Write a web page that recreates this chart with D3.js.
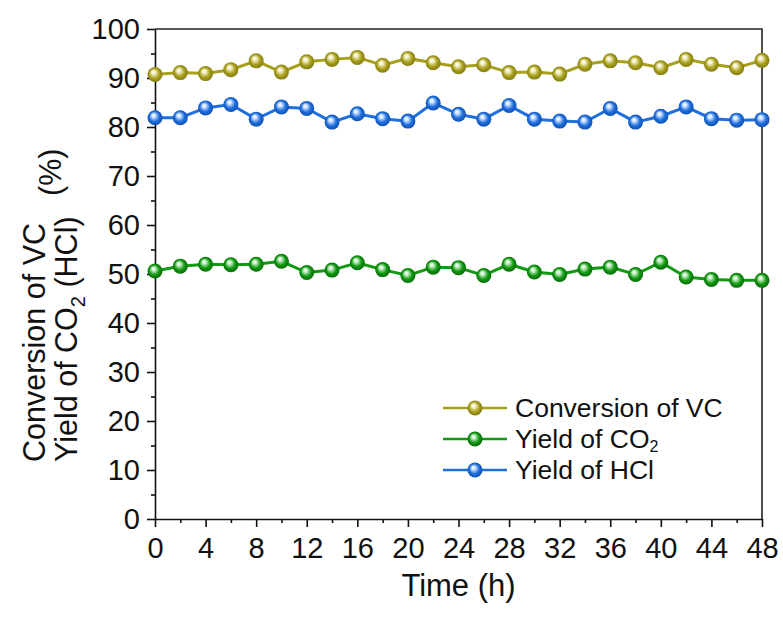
<!DOCTYPE html>
<html>
<head>
<meta charset="utf-8">
<script src="https://cdn.jsdelivr.net/npm/d3@7"></script>
<style>
  body { margin: 0; background: #fff; }
  text { font-family: "Liberation Sans", Arial, sans-serif; fill: #111; }
</style>
</head>
<body>
<svg id="chart"></svg>
<script>
// time points (h)
const hours = [0, 2, 4, 6, 8, 10, 12, 14, 16, 18, 20, 22, 24, 26, 28, 30, 32, 34, 36, 38, 40, 42, 44, 46, 48];

const conversionVC = [90.7, 91.1, 90.9, 91.7, 93.5, 91.2, 93.3, 93.8, 94.2, 92.6, 94.0, 93.1, 92.3,
  92.7, 91.1, 91.2, 90.8, 92.8, 93.5, 93.1, 92.1, 93.8, 92.8, 92.1, 93.6];
const yieldCO2 = [50.6, 51.6, 52.0, 51.9, 52.0, 52.6, 50.3, 50.8, 52.3, 50.9, 49.7, 51.4, 51.3,
  49.7, 52.0, 50.4, 49.9, 51.0, 51.4, 49.9, 52.4, 49.4, 48.9, 48.7, 48.7];
const yieldHCl = [81.9, 81.9, 83.9, 84.6, 81.6, 84.1, 83.8, 81.0, 82.7, 81.7, 81.2, 84.9, 82.6,
  81.6, 84.4, 81.6, 81.2, 81.0, 83.8, 81.0, 82.2, 84.1, 81.7, 81.4, 81.5];

const xTicks = d3.range(0, 49, 4);
const yTicks = d3.range(0, 101, 10);

const series = [
  { key: 'vc', name: 'Conversion of VC', values: conversionVC, color: '#a8a01c', light: '#f4f0c8', dark: '#7c7510' },
  { key: 'co2', name: 'Yield of CO', sub: '2', values: yieldCO2, color: '#119a11', light: '#c8f0c8', dark: '#066006' },
  { key: 'hcl', name: 'Yield of HCl', values: yieldHCl, color: '#1f6fdf', light: '#d0e4ff', dark: '#0c4aa8' },
];

const W = 783;
const H = 619;
const margin = { top: 29, right: 21, bottom: 100, left: 155 };
const width = W - margin.left - margin.right;
const height = H - margin.top - margin.bottom;
const FONT = '"Liberation Sans", Arial, sans-serif';

const svg = d3.select('#chart').attr('width', W).attr('height', H);

// ball gradients
const defs = svg.append('defs');
series.forEach((s) => {
  const g = defs.append('radialGradient')
    .attr('id', `ball-${s.key}`)
    .attr('cx', '50%').attr('cy', '50%').attr('r', '55%')
    .attr('fx', '38%').attr('fy', '32%');
  g.append('stop').attr('offset', '0%').attr('stop-color', '#ffffff');
  g.append('stop').attr('offset', '22%').attr('stop-color', s.light);
  g.append('stop').attr('offset', '60%').attr('stop-color', s.color);
  g.append('stop').attr('offset', '100%').attr('stop-color', s.dark);
});

const chart = svg.append('g').attr('transform', `translate(${margin.left},${margin.top})`);

const x = d3.scaleLinear().domain([0, 48]).range([0, width]);
const y = d3.scaleLinear().domain([0, 100]).range([height, 0]);

// minor ticks
const xMinor = d3.axisBottom(x).tickValues(d3.range(2, 48, 4)).tickSize(4).tickFormat('');
const yMinor = d3.axisLeft(y).tickValues(d3.range(5, 100, 10)).tickSize(4).tickFormat('');

chart.append('g').attr('transform', `translate(0,${height})`).call(xMinor)
  .call((g) => g.select('.domain').remove())
  .call((g) => g.selectAll('line').attr('stroke', '#111').attr('stroke-width', 1.6));
chart.append('g').call(yMinor)
  .call((g) => g.select('.domain').remove())
  .call((g) => g.selectAll('line').attr('stroke', '#111').attr('stroke-width', 1.6));

const xAxis = d3.axisBottom(x).tickValues(xTicks).tickSize(8).tickSizeOuter(0).tickPadding(10);
const yAxis = d3.axisLeft(y).tickValues(yTicks).tickSize(8).tickSizeOuter(0).tickPadding(7);

chart.append('g').attr('transform', `translate(0,${height})`).call(xAxis)
  .call((g) => g.selectAll('line, path').attr('stroke', '#111').attr('stroke-width', 1.6))
  .call((g) => g.selectAll('text').attr('font-size', 29).attr('fill', '#111').attr('font-family', FONT));
chart.append('g').call(yAxis)
  .call((g) => g.selectAll('line, path').attr('stroke', '#111').attr('stroke-width', 1.6))
  .call((g) => g.selectAll('text').attr('font-size', 29).attr('fill', '#111').attr('font-family', FONT));

// top and right frame
chart.append('path')
  .attr('d', `M0,0H${width}V${height}`)
  .attr('fill', 'none')
  .attr('stroke', '#222')
  .attr('stroke-width', 1.6);

// lines and balls
const line = d3.line().x((d, i) => x(hours[i])).y((d) => y(d));
series.forEach((s) => {
  chart.append('path')
    .datum(s.values)
    .attr('fill', 'none')
    .attr('stroke', s.color)
    .attr('stroke-width', 3)
    .attr('d', line);
  chart.append('g').selectAll('circle')
    .data(s.values)
    .join('circle')
    .attr('cx', (d, i) => x(hours[i]))
    .attr('cy', (d) => y(d))
    .attr('r', 7.5)
    .attr('fill', `url(#ball-${s.key})`);
});

// legend
const legend = svg.append('g').attr('transform', 'translate(443,408)');
series.forEach((s, i) => {
  const row = legend.append('g').attr('transform', `translate(0,${i * 31})`);
  row.append('line').attr('x1', 0).attr('x2', 64).attr('y1', 0).attr('y2', 0)
    .attr('stroke', s.color).attr('stroke-width', 2.4);
  row.append('circle').attr('cx', 32).attr('cy', 0).attr('r', 7.5)
    .attr('fill', `url(#ball-${s.key})`);
  const t = row.append('text').attr('x', 72).attr('y', 9).attr('font-size', 26.5);
  t.append('tspan').text(s.name);
  if (s.sub) t.append('tspan').attr('font-size', 16).attr('dy', 4).text(s.sub);
});

// x title
svg.append('text')
  .attr('x', margin.left + width / 2)
  .attr('y', 596)
  .attr('text-anchor', 'middle')
  .attr('font-size', 31)
  .text('Time (h)');

// y title (two lines, rotated)
const yTitle = svg.append('g');
yTitle.append('text')
  .attr('transform', 'translate(45,462) rotate(-90)')
  .attr('text-anchor', 'start')
  .attr('font-size', 30.5)
  .text('Conversion of VC');
const t2 = yTitle.append('text')
  .attr('transform', 'translate(77,462) rotate(-90)')
  .attr('text-anchor', 'start')
  .attr('font-size', 30.5);
t2.append('tspan').text('Yield of CO');
t2.append('tspan').attr('font-size', 20).attr('dy', 8).text('2');
t2.append('tspan').attr('dy', -8).text(' (HCl)');
yTitle.append('text')
  .attr('transform', 'translate(61,196) rotate(-90)')
  .attr('text-anchor', 'start')
  .attr('font-size', 30.5)
  .text('(%)');
</script>
</body>
</html>
